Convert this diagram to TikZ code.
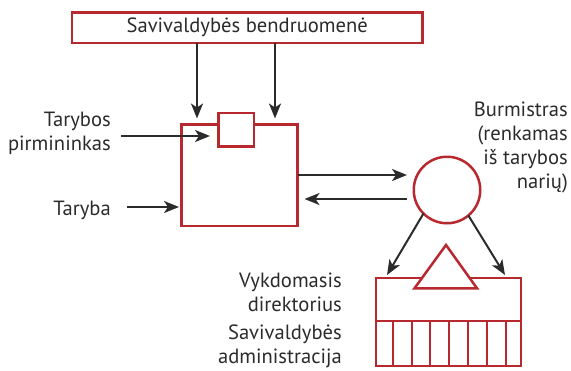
\documentclass[tikz,border=0pt]{standalone}
\usepackage{fontspec}
\setmainfont{PT Sans}
\usetikzlibrary{arrows.meta,calc}
\definecolor{rosso}{RGB}{184,40,47}
\definecolor{grigio}{RGB}{43,43,43}
\begin{document}
\begin{tikzpicture}[x=1pt,y=-1pt,font=\fontsize{20.6}{24}\selectfont,text=grigio,
    box/.style={draw=rosso, line width=2.5pt, inner sep=0pt, outer sep=0pt},
    freccia/.style={draw=grigio, line width=2pt, -{Stealth[length=15pt,width=12pt,inset=4pt]}},
    etichetta/.style={align=right, anchor=east, inner sep=0pt}]

    % Cornice della figura
    \useasboundingbox (0,0) rectangle (571,370);
    \clip (0,0) rectangle (571,370);

    % Comunita'
    \node[box, minimum width=350.5pt, minimum height=30.5pt] (comunita) at (247.25,27.75) {Savivaldybės bendruomenė};

    % Consiglio e presidente
    \node[box, minimum width=116pt, minimum height=101.5pt] (taryba) at (239.5,175.25) {};
    \node[box, fill=white, minimum width=35.5pt, minimum height=33.3pt] (pirmininkas) at (236.25,129.65) {};

    % Sindaco
    \node[box, circle, minimum size=66.5pt] (burmistras) at (447,190) {};

    % Amministrazione con direttore
    \node[box, line width=2pt, minimum width=145.5pt, minimum height=88pt] (administracija) at (448.25,322.3) {};
    \draw[rosso, line width=2pt] (administracija.west |- 0,321) -- (administracija.east |- 0,321);
    \foreach \x in {392.7,411.7,430.3,449,467.7,486.7,505.7}
        \draw[rosso, line width=2pt] (\x,321) -- (\x,0 |- administracija.south);
    \draw[rosso, line width=2.5pt, fill=white] (414.5,288.3) -- (446,245) -- (477,288.3) -- cycle;

    % Etichette
    \node[etichetta] (lblpirm) at (111,133.5) {Tarybos\\pirmininkas};
    \node[etichetta] (lbltaryba) at (111,210) {Taryba};
    \node[etichetta] (lblburm) at (568,147) {Burmistras\\(renkamas\\iš tarybos\\narių)};
    \node[etichetta] (lblvykd) at (342,292) {Vykdomasis\\direktorius};
    \node[etichetta] (lbladmin) at (342,346.5) {Savivaldybės\\administracija};

    % Frecce dalla comunita'
    \coordinate (in1) at (197,118.5);
    \coordinate (in2) at (275,118.5);
    \draw[freccia] (comunita.south -| in1) -- (in1);
    \draw[freccia] (comunita.south -| in2) -- (in2);

    % Frecce dalle etichette
    \coordinate (inp) at (210,136);
    \coordinate (int) at (179,207);
    \draw[freccia] ($(lblpirm.east |- inp)+(10,0)$) -- (inp);
    \draw[freccia] ($(lbltaryba.east |- int)+(16,0)$) -- (int);

    % Consiglio <-> sindaco
    \coordinate (inb) at (407,175);
    \coordinate (outb) at (407,199);
    \draw[freccia] (taryba.east |- inb) -- (inb);
    \draw[freccia] (outb) -- ($(taryba.east |- outb)+(7,0)$);

    % Sindaco -> amministrazione
    \coordinate (dir1) at (387,275);
    \coordinate (dir2) at (505,275);
    \draw[freccia] (burmistras.225) -- (dir1);
    \draw[freccia] (burmistras.-50) -- (dir2);

\end{tikzpicture}
\end{document}
